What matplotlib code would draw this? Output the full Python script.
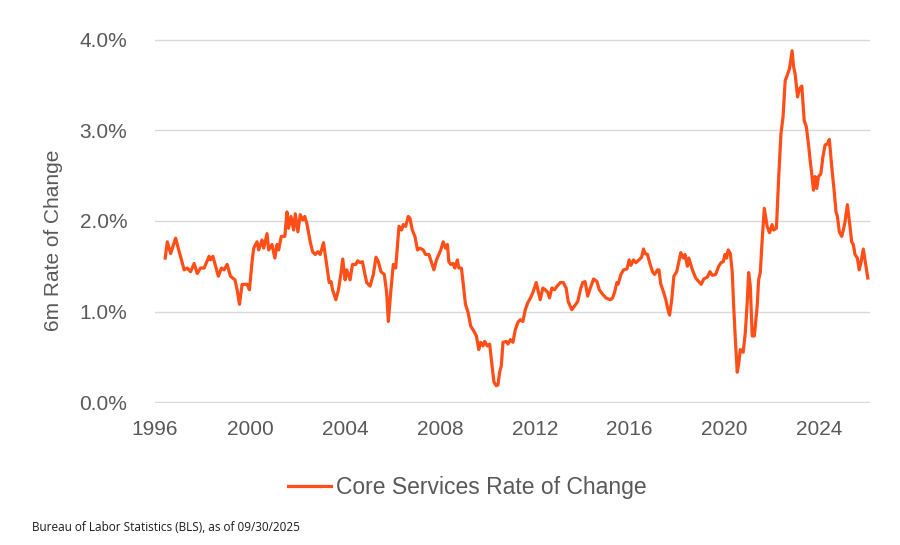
import matplotlib
matplotlib.use("Agg")
import matplotlib.pyplot as plt
from matplotlib.ticker import FuncFormatter

# 6m rate of change of core services (%)
dates = [
    1996.43, 1996.52, 1996.66, 1996.87, 1997.02, 1997.23, 1997.36, 1997.50, 1997.65, 1997.78,
    1997.92, 1998.07, 1998.28, 1998.34, 1998.44, 1998.67, 1998.80, 1998.91, 1999.04, 1999.18,
    1999.37, 1999.46, 1999.56, 1999.67, 1999.88, 1999.98, 2000.09, 2000.16, 2000.30, 2000.37,
    2000.51, 2000.58, 2000.72, 2000.79, 2000.93, 2001.05, 2001.14, 2001.21, 2001.32, 2001.47,
    2001.56, 2001.63, 2001.73, 2001.84, 2001.91, 2002.02, 2002.12, 2002.22, 2002.31, 2002.40,
    2002.54, 2002.64, 2002.75, 2002.86, 2002.96, 2003.10, 2003.24, 2003.34, 2003.42, 2003.48,
    2003.62, 2003.73, 2003.84, 2003.91, 2004.01, 2004.08, 2004.22, 2004.32, 2004.46, 2004.54,
    2004.64, 2004.74, 2004.82, 2004.92, 2005.06, 2005.20, 2005.31, 2005.41, 2005.52, 2005.66,
    2005.76, 2005.83, 2005.94, 2006.04, 2006.14, 2006.28, 2006.39, 2006.46, 2006.56, 2006.67,
    2006.74, 2006.84, 2006.95, 2007.06, 2007.16, 2007.30, 2007.40, 2007.54, 2007.65, 2007.75,
    2007.86, 2008.04, 2008.14, 2008.24, 2008.32, 2008.38, 2008.46, 2008.56, 2008.63, 2008.74,
    2008.80, 2008.91, 2008.98, 2009.08, 2009.19, 2009.30, 2009.44, 2009.54, 2009.64, 2009.72,
    2009.82, 2009.89, 2010.00, 2010.10, 2010.20, 2010.28, 2010.38, 2010.45, 2010.52, 2010.59,
    2010.66, 2010.80, 2010.87, 2010.97, 2011.08, 2011.18, 2011.29, 2011.39, 2011.50, 2011.60,
    2011.71, 2011.82, 2011.92, 2012.06, 2012.13, 2012.23, 2012.34, 2012.44, 2012.55, 2012.62,
    2012.72, 2012.83, 2012.94, 2013.08, 2013.20, 2013.32, 2013.41, 2013.56, 2013.67, 2013.81,
    2013.92, 2014.02, 2014.12, 2014.23, 2014.34, 2014.48, 2014.62, 2014.72, 2014.86, 2015.00,
    2015.18, 2015.28, 2015.37, 2015.46, 2015.51, 2015.63, 2015.74, 2015.88, 2015.98, 2016.05,
    2016.16, 2016.26, 2016.39, 2016.50, 2016.58, 2016.65, 2016.75, 2016.86, 2016.96, 2017.05,
    2017.17, 2017.23, 2017.31, 2017.42, 2017.52, 2017.63, 2017.68, 2017.77, 2017.86, 2017.98,
    2018.07, 2018.15, 2018.26, 2018.33, 2018.43, 2018.49, 2018.64, 2018.78, 2018.91, 2019.01,
    2019.12, 2019.27, 2019.38, 2019.48, 2019.62, 2019.75, 2019.85, 2019.94, 2020.01, 2020.08,
    2020.15, 2020.24, 2020.32, 2020.38, 2020.45, 2020.53, 2020.59, 2020.66, 2020.78, 2020.87,
    2020.95, 2021.01, 2021.08, 2021.16, 2021.25, 2021.37, 2021.43, 2021.50, 2021.58, 2021.67,
    2021.79, 2021.89, 2022.00, 2022.06, 2022.18, 2022.27, 2022.37, 2022.46, 2022.55, 2022.65,
    2022.73, 2022.84, 2022.90, 2022.97, 2023.07, 2023.15, 2023.25, 2023.35, 2023.44, 2023.53,
    2023.60, 2023.67, 2023.74, 2023.81, 2023.88, 2023.95, 2024.05, 2024.14, 2024.23, 2024.33,
    2024.41, 2024.51, 2024.61, 2024.69, 2024.75, 2024.83, 2024.93, 2025.00, 2025.07, 2025.17,
    2025.28, 2025.35, 2025.42, 2025.49, 2025.59, 2025.67, 2025.74, 2025.84, 2025.91, 2026.03,
]
values = [
    1.59, 1.77, 1.64, 1.81, 1.66, 1.46, 1.48, 1.44, 1.53, 1.42,
    1.48, 1.48, 1.61, 1.57, 1.61, 1.39, 1.48, 1.46, 1.52, 1.39,
    1.35, 1.24, 1.08, 1.30, 1.30, 1.24, 1.55, 1.70, 1.77, 1.68,
    1.79, 1.70, 1.86, 1.68, 1.74, 1.59, 1.74, 1.68, 1.83, 1.83,
    2.10, 1.92, 2.05, 1.90, 2.08, 1.88, 2.07, 2.01, 2.05, 1.97,
    1.77, 1.66, 1.63, 1.66, 1.63, 1.76, 1.50, 1.32, 1.33, 1.24,
    1.13, 1.24, 1.43, 1.58, 1.35, 1.46, 1.35, 1.52, 1.52, 1.56,
    1.54, 1.55, 1.44, 1.32, 1.28, 1.41, 1.60, 1.55, 1.44, 1.41,
    1.21, 0.89, 1.24, 1.52, 1.48, 1.94, 1.90, 1.96, 1.94, 2.05,
    2.03, 1.90, 1.83, 1.68, 1.70, 1.68, 1.63, 1.63, 1.54, 1.46,
    1.57, 1.68, 1.77, 1.70, 1.74, 1.55, 1.52, 1.53, 1.48, 1.57,
    1.48, 1.48, 1.32, 1.08, 0.99, 0.84, 0.78, 0.73, 0.58, 0.66,
    0.62, 0.67, 0.62, 0.64, 0.40, 0.22, 0.18, 0.19, 0.33, 0.40,
    0.66, 0.67, 0.64, 0.69, 0.66, 0.80, 0.88, 0.91, 0.89, 1.02,
    1.10, 1.15, 1.21, 1.32, 1.24, 1.13, 1.26, 1.24, 1.21, 1.15,
    1.26, 1.24, 1.28, 1.32, 1.32, 1.26, 1.11, 1.02, 1.06, 1.11,
    1.24, 1.32, 1.33, 1.17, 1.26, 1.36, 1.33, 1.24, 1.19, 1.15,
    1.13, 1.15, 1.22, 1.32, 1.30, 1.41, 1.46, 1.47, 1.57, 1.51,
    1.57, 1.54, 1.57, 1.60, 1.69, 1.64, 1.63, 1.52, 1.44, 1.41,
    1.46, 1.46, 1.30, 1.22, 1.13, 1.00, 0.96, 1.13, 1.39, 1.44,
    1.55, 1.65, 1.59, 1.63, 1.50, 1.59, 1.46, 1.37, 1.33, 1.30,
    1.36, 1.38, 1.44, 1.40, 1.41, 1.50, 1.54, 1.55, 1.63, 1.59,
    1.68, 1.64, 1.43, 1.06, 0.69, 0.33, 0.42, 0.58, 0.55, 0.77,
    1.10, 1.43, 1.28, 0.73, 0.73, 1.06, 1.35, 1.43, 1.79, 2.14,
    1.94, 1.87, 1.96, 1.90, 1.92, 2.45, 2.96, 3.15, 3.55, 3.62,
    3.68, 3.88, 3.71, 3.62, 3.37, 3.46, 3.49, 3.11, 3.04, 2.85,
    2.67, 2.52, 2.34, 2.49, 2.36, 2.49, 2.52, 2.71, 2.84, 2.85,
    2.90, 2.60, 2.34, 2.10, 2.05, 1.88, 1.83, 1.90, 1.99, 2.18,
    1.94, 1.77, 1.74, 1.63, 1.59, 1.46, 1.54, 1.69, 1.57, 1.37,
]
year_ticks = [1996, 2000, 2004, 2008, 2012, 2016, 2020, 2024]
pct_ticks = [0, 1, 2, 3, 4]

plt.rcParams["font.family"] = ["Liberation Sans", "DejaVu Sans"]
gray = "#595959"
orange = "#FF4E18"

fig = plt.figure(figsize=(9, 5.45), dpi=100)
ax = fig.add_axes([0.1722, 0.2606, 0.7944, 0.6679])

ax.plot(dates, values, color=orange, linewidth=2.3, label="Core Services Rate of Change",
        solid_joinstyle="round", zorder=3)

ax.set_xlim(1996.105, 2026.12)
ax.set_ylim(-0.01, 4.01)
ax.set_xticks(year_ticks)
ax.set_xticklabels([str(y) for y in year_ticks])
ax.set_yticks(pct_ticks)
ax.yaxis.set_major_formatter(FuncFormatter(lambda v, p: f"{v:.1f}%"))

ax.grid(axis="y", color="#D9D9D9", linewidth=1.0, zorder=0)
for s in ax.spines.values():
    s.set_visible(False)
ax.tick_params(axis="both", length=0, labelsize=15, colors=gray)
ax.tick_params(axis="x", pad=12)
ax.tick_params(axis="y", pad=20)

ax.set_ylabel("6m Rate of Change", fontsize=15, color=gray)
ax.yaxis.set_label_coords(-0.128, 0.448)

leg = ax.legend(loc="center", bbox_to_anchor=(0.519, 0.106), bbox_transform=fig.transFigure,
                frameon=False, fontsize=16.5, handlelength=1.9, handletextpad=0.2)
for t in leg.get_texts():
    t.set_color(gray)

fig.text(0.035, 0.033, "Bureau of Labor Statistics (BLS), as of 09/30/2025",
         fontsize=8.5, color="#1a1a1a", family=["Open Sans", "DejaVu Sans"], va="center")

fig.savefig("out.png", dpi=100)
